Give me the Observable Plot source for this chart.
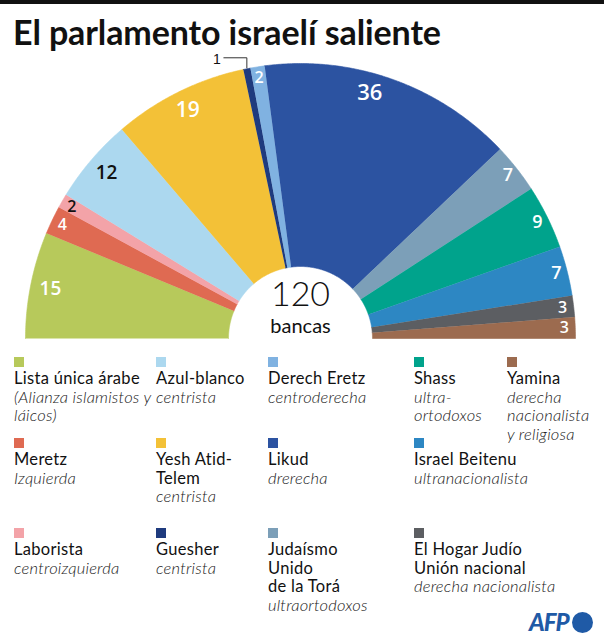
<!DOCTYPE html>
<html><head><meta charset="utf-8">
<script src="https://cdn.jsdelivr.net/npm/d3@7"></script>
<script src="https://cdn.jsdelivr.net/npm/@observablehq/plot@0.6"></script>
<style>
body{margin:0;background:#fff;}
#wrap{position:relative;width:604px;height:640px;overflow:hidden;background:#fff;font-family:Lato,sans-serif;}
#bar{position:absolute;left:0;top:0;width:604px;height:4px;background:#111;}
#title{position:absolute;left:13px;top:17px;font:700 34px/30px Lato,sans-serif;color:#111;white-space:nowrap;letter-spacing:-0.1px;}
#chart{position:absolute;left:0;top:0;}
.item{position:absolute;}
.sw{width:10px;height:10px;margin-bottom:2px;}
.nm{font:400 16.5px/18.5px Lato,sans-serif;color:#111;white-space:pre;letter-spacing:0.3px;}
.ds{font:italic 300 16.5px/18.5px Lato,sans-serif;color:#222;white-space:pre;letter-spacing:0.2px;}
#afp{position:absolute;left:529px;top:609px;height:26px;display:flex;align-items:center;}
#afp span{font:italic 900 24px/26px Lato,sans-serif;color:#1f5aa6;letter-spacing:-1px;}
#afp i{display:inline-block;width:21px;height:21px;border-radius:50%;background:#1f5aa6;margin-left:3px;}
</style></head>
<body>
<div id="wrap">
  <div id="bar"></div>
  <div id="chart"></div>
  <div id="title">El parlamento israelí saliente</div>
  <div id="legend"></div>
  <div id="afp"><span>AFP</span><i></i></div>
</div>
<script>
// ---- data ----
const parties = ["Lista única árabe","Meretz","Laborista","Azul-blanco","Yesh Atid-Telem","Guesher","Derech Eretz","Likud","Judaísmo Unido de la Torá","Shass","Israel Beitenu","El Hogar Judío Unión nacional","Yamina"];
const seats = [15,4,2,12,19,1,2,36,7,9,7,3,3];
const colors = ["#b7c95b","#df6a52","#f3a3a8","#acd8ef","#f3c137","#1f3b7e","#80b2e1","#2c53a1","#7c9fb8","#00a38c","#2d87c3","#5c5e62","#9c6b4f"];
const legendNames = ["Lista única árabe","Meretz","Laborista","Azul-blanco","Yesh Atid-\nTelem","Guesher","Derech Eretz","Likud","Judaísmo\nUnido\nde la Torá","Shass","Israel Beitenu","El Hogar Judío\nUnión nacional","Yamina"];
const legendDescs = ["(Alianza islamistos y\nláicos)","Izquierda","centroizquierda","centrista","centrista","centrista","centroderecha","drerecha","ultraortodoxos","ultra-\nortodoxos","ultranacionalista","derecha nacionalista","derecha\nnacionalista\ny religiosa"];
const legendOrder = ["Lista única árabe","Meretz","Laborista","Azul-blanco","Yesh Atid-Telem","Guesher","Derech Eretz","Likud","Judaísmo Unido de la Torá","Shass","Israel Beitenu","El Hogar Judío Unión nacional","Yamina"];
const totalLabel = "120";
const unitLabel = "bancas";

// ---- geometry ----
const total = d3.sum(seats);
const R0 = 72, R1 = 275;
const ang = v => Math.PI - (v / total) * Math.PI;
const cum = d3.cumsum(seats);
const poly = [];
parties.forEach((p, i) => {
  const s = cum[i] - seats[i], e = cum[i];
  const n = Math.max(2, Math.ceil((e - s) * 4));
  for (let k = 0; k <= n; k++) { const a = ang(s + (e - s) * k / n); poly.push({party: p, x: R1 * Math.cos(a), y: R1 * Math.sin(a)}); }
  for (let k = n; k >= 0; k--) { const a = ang(s + (e - s) * k / n); poly.push({party: p, x: R0 * Math.cos(a), y: R0 * Math.sin(a)}); }
});
const darkLabel = new Set(["Azul-blanco","Laborista"]);
const labels = parties.map((p, i) => {
  const mid = cum[i] - seats[i] / 2;
  const a = ang(seats[i] >= 30 ? mid - 2.5 : mid);
  const r = seats[i] >= 12 ? 255 : 264;
  return {party: p, v: seats[i], x: r * Math.cos(a), y: r * Math.sin(a),
    size: seats[i] >= 30 ? 22 : seats[i] >= 19 ? 21 : seats[i] >= 12 ? 19 : seats[i] >= 7 ? 18 : 16};
});
const inside = labels.filter(d => d.v > 1);
const outside = labels.filter(d => d.v === 1);
const leader = [];
outside.forEach(d => {
  const i = parties.indexOf(d.party);
  const a = ang(cum[i] - seats[i] / 2);
  const x0 = R1 * Math.cos(a), y0 = R1 * Math.sin(a);
  leader.push({party: d.party, x: x0, y: y0 + 1}, {party: d.party, x: x0, y: y0 + 11}, {party: d.party, x: x0 - 23, y: y0 + 11});
});
const outText = outside.map(d => {
  const i = parties.indexOf(d.party);
  const a = ang(cum[i] - seats[i] / 2);
  return {v: d.v, x: R1 * Math.cos(a) - 26, y: R1 * Math.sin(a) + 9};
});

const chart = Plot.plot({
  width: 604, height: 345,
  marginTop: 0, marginRight: 0, marginBottom: 0, marginLeft: 0,
  x: {domain: [-300, 304], axis: null},
  y: {domain: [-7, 338], axis: null},
  color: {domain: parties, range: colors},
  style: {background: "transparent", overflow: "visible"},
  marks: [
    Plot.line(poly, {x: "x", y: "y", z: "party", fill: "party", stroke: "party", strokeWidth: 0.6, curve: "linear"}),
    Plot.text(inside.filter(d => !darkLabel.has(d.party)), {x: "x", y: "y", text: d => String(d.v), fill: "white", fontSize: "size", fontWeight: 600, fontFamily: "Open Sans"}),
    Plot.text(inside.filter(d => darkLabel.has(d.party)), {x: "x", y: "y", text: d => String(d.v), fill: "#111", fontSize: "size", fontWeight: 600, fontFamily: "Open Sans"}),
    Plot.line(leader, {x: "x", y: "y", z: "party", stroke: "#333", strokeWidth: 1}),
    Plot.text(outText, {x: "x", y: "y", text: d => String(d.v), fill: "#111", fontSize: 14, textAnchor: "end", fontFamily: "Liberation Sans"}),
    Plot.text([{t: totalLabel}], {x: () => 0, y: () => 43, text: "t", fontSize: 34, fontWeight: 300, fill: "#111", fontFamily: "Lato"}),
    Plot.text([{t: unitLabel}], {x: () => 0, y: () => 12, text: "t", fontSize: 20, fill: "#111", fontFamily: "Lato"})
  ]
});
document.getElementById("chart").append(chart);

// ---- legend ----
const colX = [14, 156, 268, 414, 507];
const rowY = [357, 438, 528];
const leg = document.getElementById("legend");
legendOrder.forEach((p, k) => {
  const i = parties.indexOf(p);
  const el = document.createElement("div");
  el.className = "item";
  el.style.left = colX[Math.floor(k / 3)] + "px";
  el.style.top = rowY[k % 3] + "px";
  el.innerHTML = `<div class="sw" style="background:${colors[i]}"></div><div class="nm"></div><div class="ds"></div>`;
  el.querySelector(".nm").textContent = legendNames[i];
  el.querySelector(".ds").textContent = legendDescs[i];
  leg.append(el);
});
</script>
</body></html>
